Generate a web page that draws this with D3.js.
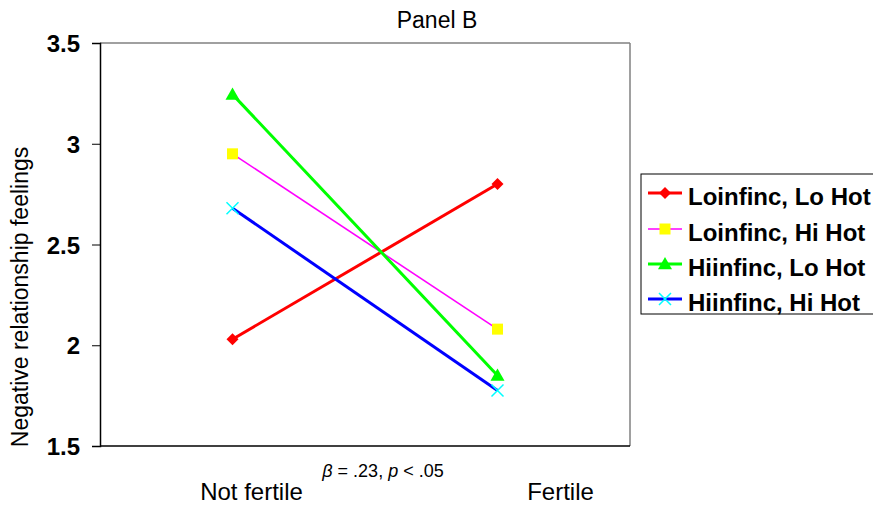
<!DOCTYPE html>
<html><head><meta charset="utf-8">
<script src="https://cdn.jsdelivr.net/npm/d3@7/dist/d3.min.js"></script>
<style>body{margin:0;background:#fff}svg{display:block}text{font-family:"Liberation Sans",Arial,sans-serif}</style>
</head><body>
<svg id="c" width="873" height="512"></svg>
<script>
const categories = ["Not fertile", "Fertile"];
const seriesNames = ["Loinfinc, Lo Hot", "Loinfinc, Hi Hot", "Hiinfinc, Lo Hot", "Hiinfinc, Hi Hot"];
const loLo = [2.03, 2.80];
const loHi = [2.95, 2.08];
const hiLo = [3.245, 1.85];
const hiHi = [2.68, 1.775];
const yTicks = [1.5, 2, 2.5, 3, 3.5];

const lineColors = ["#ff0000", "#ff00ff", "#00ff00", "#0000ff"];
const markerColors = ["#ff0000", "#ffff00", "#00ff00", "#00ffff"];
const lineWidths = [3, 1.6, 3, 3];
const markers = ["diamond", "square", "triangle", "x"];
const series = [loLo, loHi, hiLo, hiHi].map((v, i) => ({name: seriesNames[i], values: v}));

const svg = d3.select("#c");
const L = 100, R = 630, T = 43, B = 446;
const x = d3.scalePoint().domain(categories).range([L, R]).padding(0.5);
const y = d3.scaleLinear().domain([1.5, 3.5]).range([B, T]);

// plot frame
svg.append("line").attr("x1", L).attr("x2", R).attr("y1", T).attr("y2", T).attr("stroke", "#808080").attr("stroke-width", 1.5);
svg.append("line").attr("x1", R).attr("x2", R).attr("y1", T).attr("y2", B).attr("stroke", "#808080").attr("stroke-width", 1.5);
svg.append("line").attr("x1", L).attr("x2", R).attr("y1", B).attr("y2", B).attr("stroke", "#000").attr("stroke-width", 1.5);

// y axis
const yAxis = d3.axisLeft(y).tickValues(yTicks).tickSize(8).tickFormat(d => String(d));
const ya = svg.append("g").attr("transform", `translate(${L},0)`).call(yAxis);
ya.select(".domain").attr("stroke", "#000").attr("stroke-width", 1.5);
ya.selectAll(".tick line").attr("stroke", "#000");
ya.selectAll(".tick text").attr("font-family", '"Liberation Sans",Arial,sans-serif').attr("font-size", 24).attr("font-weight", "bold").attr("fill", "#000").attr("x", -20).attr("dy", "0.36em");

// y label
svg.append("text").attr("transform", "translate(28,297) rotate(-90)").attr("text-anchor", "middle").attr("font-size", 23).text("Negative relationship feelings");

// title
svg.append("text").attr("x", 437).attr("y", 28).attr("text-anchor", "middle").attr("font-size", 23).text("Panel B");

// category labels (offset as in the reference)
const catOffsets = [19, 63];
categories.forEach((c, i) => {
  svg.append("text").attr("x", x(c) + catOffsets[i]).attr("y", 500).attr("text-anchor", "middle").attr("font-size", 24).text(c);
});

// stats annotation
const ann = svg.append("text").attr("x", 383).attr("y", 477).attr("text-anchor", "middle").attr("font-size", 18);
ann.append("tspan").attr("font-style", "italic").text("β");
ann.append("tspan").text(" = .23, ");
ann.append("tspan").attr("font-style", "italic").text("p");
ann.append("tspan").text(" < .05");

function drawMarker(g, type, cx, cy, color, scale) {
  const s = scale || 1;
  if (type === "diamond") {
    const r = 6 * s;
    g.append("path").attr("d", `M${cx},${cy - r}L${cx + r},${cy}L${cx},${cy + r}L${cx - r},${cy}Z`).attr("fill", color);
  } else if (type === "square") {
    const h = 5.5 * s;
    g.append("rect").attr("x", cx - h).attr("y", cy - h).attr("width", 2 * h).attr("height", 2 * h).attr("fill", color);
  } else if (type === "triangle") {
    const h = 7 * s;
    g.append("path").attr("d", `M${cx},${cy - h}L${cx + h},${cy + h * 0.75}L${cx - h},${cy + h * 0.75}Z`).attr("fill", color);
  } else {
    const h = 6 * s;
    g.append("path").attr("d", `M${cx - h},${cy - h}L${cx + h},${cy + h}M${cx + h},${cy - h}L${cx - h},${cy + h}`).attr("stroke", color).attr("stroke-width", 1.5).attr("fill", "none");
  }
}

const line = d3.line().x((d, i) => x(categories[i])).y(d => y(d));
series.forEach((s, i) => {
  const g = svg.append("g");
  g.append("path").attr("d", line(s.values)).attr("fill", "none").attr("stroke", lineColors[i]).attr("stroke-width", lineWidths[i]);
  s.values.forEach((v, j) => drawMarker(g, markers[i], x(categories[j]), y(v), markerColors[i]));
});

// legend
const lg = svg.append("g");
lg.append("rect").attr("x", 641).attr("y", 174).attr("width", 240).attr("height", 140).attr("fill", "#fff").attr("stroke", "#000").attr("stroke-width", 1);
const rowY = [193, 229, 264, 299];
series.forEach((s, i) => {
  lg.append("line").attr("x1", 648).attr("x2", 682).attr("y1", rowY[i]).attr("y2", rowY[i]).attr("stroke", lineColors[i]).attr("stroke-width", lineWidths[i]);
  drawMarker(lg, markers[i], 665, rowY[i], markerColors[i]);
  lg.append("text").attr("x", 688).attr("y", rowY[i] + 12).attr("font-size", 24).attr("font-weight", "bold").text(s.name);
});
</script>
</body></html>
